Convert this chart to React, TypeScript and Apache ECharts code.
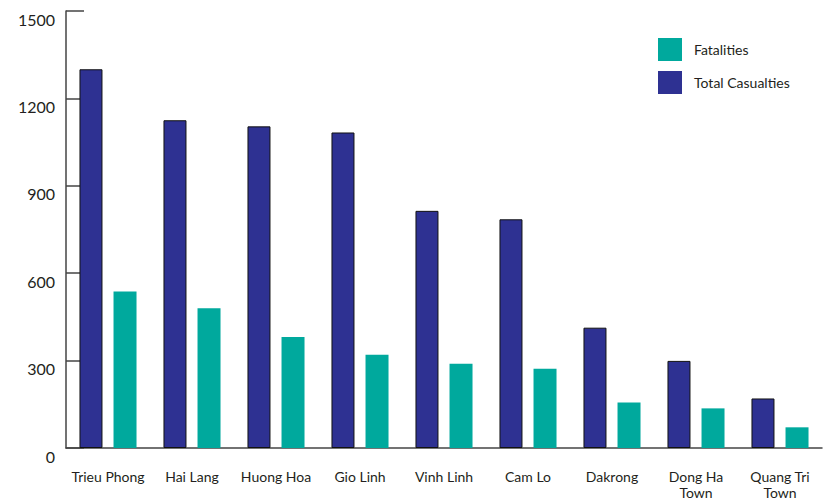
import React, { useEffect, useRef } from "react";
import * as echarts from "echarts";

const categories = [
  "Trieu Phong",
  "Hai Lang",
  "Huong Hoa",
  "Gio Linh",
  "Vinh Linh",
  "Cam Lo",
  "Dakrong",
  "Dong Ha\nTown",
  "Quang Tri\nTown",
];
const totalCasualties = [1300, 1125, 1104, 1083, 814, 785, 413, 299, 170];
const fatalities = [537, 480, 381, 320, 289, 272, 156, 136, 71];
const yTicks = { min: 0, max: 1500, interval: 300 };

const FONT = "Lato, 'DejaVu Sans', sans-serif";

export default function App() {
  const ref = useRef<HTMLDivElement>(null);
  useEffect(() => {
    if (!ref.current) return;
    const chart = echarts.init(ref.current, undefined, { renderer: "svg" });
    chart.setOption({
      animation: false,
      textStyle: { fontFamily: FONT },
      grid: { left: 66, right: 2, top: 11, bottom: 48, containLabel: false },
      legend: {
        orient: "vertical",
        left: 653,
        top: 33,
        itemWidth: 24,
        itemHeight: 23,
        itemGap: 10,
        icon: "rect",
        itemStyle: { borderWidth: 0 },
        data: ["Fatalities", "Total Casualties"],
        textStyle: { fontSize: 14, color: "#231f20", fontFamily: FONT, padding: [0, 0, 0, 7] },
      },
      xAxis: {
        type: "category",
        data: categories,
        axisLine: { lineStyle: { color: "#444", width: 1.5 } },
        axisTick: { inside: true, length: 11, lineStyle: { color: "#444", width: 1.5 } },
        axisLabel: {
          color: "#231f20",
          fontSize: 14,
          margin: 20,
          lineHeight: 16,
          fontFamily: FONT,
          interval: 0,
        },
      },
      yAxis: {
        type: "value",
        min: yTicks.min,
        max: yTicks.max,
        interval: yTicks.interval,
        splitLine: { show: false },
        axisLine: { show: true, lineStyle: { color: "#444", width: 1.5 } },
        axisTick: { show: true, inside: true, length: 18, lineStyle: { color: "#444", width: 1.5 } },
        axisLabel: {
          color: "#231f20",
          fontSize: 16,
          margin: 11,
          verticalAlign: "top",
          fontFamily: FONT,
          formatter: (v: number) => String(v),
        },
      },
      series: [
        {
          name: "Total Casualties",
          type: "bar",
          data: totalCasualties,
          barWidth: 23,
          barGap: "48%",
          itemStyle: { color: "#2e3192", borderColor: "#111", borderWidth: 1 },
        },
        {
          name: "Fatalities",
          type: "bar",
          data: fatalities,
          barWidth: 23,
          itemStyle: { color: "#00a99d" },
        },
      ],
    });
    return () => chart.dispose();
  }, []);
  return <div ref={ref} style={{ width: 824, height: 500, position: "absolute", left: 0, top: 0 }} />;
}
